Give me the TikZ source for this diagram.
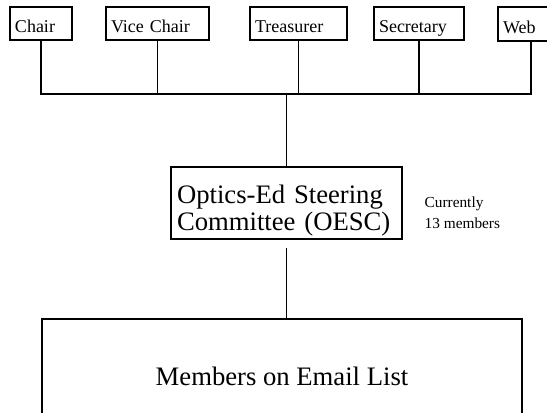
\documentclass[tikz,border=0pt]{standalone}
\usepackage{fontspec}
\setmainfont{Liberation Serif}
\usetikzlibrary{positioning}

\begin{document}
\begin{tikzpicture}[x=0.75pt,y=-0.75pt,
		line width=1pt,
		office/.style={draw,rectangle,inner xsep=3.75pt,inner ysep=2.25pt,text height=17.25pt,
			text depth=3pt,align=left,font=\fontsize{13.5}{15}\selectfont},
		board/.style={draw,rectangle,inner xsep=4.5pt,inner ysep=0pt,text height=27.75pt,
			text depth=26.25pt,text width=164.25pt,align=left,font=\fontsize{20}{20.25}\selectfont},
		note/.style={inner sep=0pt,align=left,font=\fontsize{11.5}{15.5}\selectfont}]
		\clip (0,0) rectangle (547,413);
		
		% Officers
		\node[office,text width=39pt] (chair) at (41,23.5) {Chair};
		\node[office,text width=69.75pt] (vice) at (157.5,23.5) {Vice Chair};
		\node[office,text width=65.25pt] (treas) at (298.5,23.5) {Treasurer};
		\node[office,text width=60pt] (secr) at (419,23.5) {Secretary};
		\node[office,text width=42pt,text height=18pt] (web) at (531,24) {Web};
		
		% Committee and list
		\node[board] (oesc) at (286.5,203) {Optics-Ed Steering\\Committee (OESC)};
		\node[note,anchor=west] (count) at (424,213) {Currently\\13 members};
		\node[draw,rectangle,minimum width=360pt,minimum height=85.5pt,
			font=\fontsize{20}{20.5}\selectfont] (members) at (282,376) {Members on Email List};
		
		% Bus line
		\coordinate (bus) at (oesc.north |- 0,94);
		\draw (chair.south) -- (chair.south |- bus) -- (web.south |- bus) -- (web.south);
		\foreach \n in {vice,treas,secr}
			\draw (\n.south) -- (\n.south |- bus);
		\draw (bus) -- (oesc.north);
		\draw[shorten <=6pt] (oesc.south) -- (oesc.south |- members.north);
		
\end{tikzpicture}
\end{document}
